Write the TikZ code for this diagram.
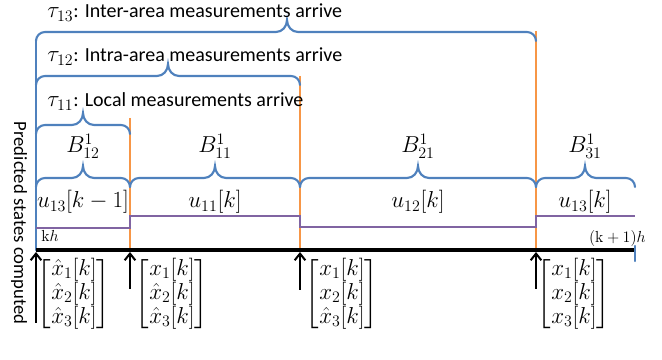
\documentclass[tikz,border=0pt]{standalone}
\usepackage{amsmath}
\usepackage[no-math]{fontspec}
\setmainfont{Carlito}
\usetikzlibrary{arrows.meta}
\definecolor{bblue}{RGB}{79,129,189}
\definecolor{borange}{RGB}{247,150,70}
\definecolor{bpurple}{RGB}{128,100,162}
\tikzset{
  bl/.style={draw=bblue,line width=1.6pt,line cap=round},
  orl/.style={draw=borange,line width=2pt},
  pul/.style={draw=bpurple,line width=2.2pt},
  axisl/.style={draw=black,line width=3pt},
  upar/.style={draw=black,line width=1.5pt,-{Straight Barb[length=5pt,width=8pt]}},
  txt/.style={font=\fontsize{15}{17}\selectfont,inner sep=0pt},
  rtxt/.style={font=\fontsize{14}{16}\selectfont,inner sep=0pt},
  mtxt/.style={font=\fontsize{17}{19}\selectfont,inner sep=0pt},
  small/.style={font=\fontsize{12}{13}\selectfont,inner sep=0pt},
  vec/.style={font=\fontsize{17}{16.8}\selectfont,inner sep=0pt}
}
\newcommand\bigtau[1]{{\fontsize{17}{19}\selectfont$\tau_{#1}$}}
\newcommand\pbr[4]{%
  \draw[bl] (#1,-#4-9) to[out=90,in=180] (#1+9,-#4) -- (#2-11,-#4)
    to[out=0,in=-90] (#2,-#4+12) to[out=-90,in=180] (#2+11,-#4)
    -- (#3-9,-#4) to[out=0,in=90] (#3,-#4-9);}
\begin{document}
\begin{tikzpicture}[x=0.75pt,y=0.75pt]
\useasboundingbox (0,0) rectangle (662,-360);
% orange vertical lines
\draw[orl] (130,-118) -- (130,-250);
\draw[orl] (300,-76) -- (300,-250);
\draw[orl] (536,-31) -- (536,-250);
% left blue vertical
\draw[bl] (36,-40) -- (36,-250);
% top braces
\pbr{36}{287}{536}{32}
\pbr{36}{168}{300}{76}
\pbr{36}{83}{130}{125}
% B braces
\pbr{36}{83}{130}{178}
\pbr{130}{215}{300}{178}
\pbr{300}{418}{536}{178}
\pbr{536}{585}{635}{178}
% titles
\node[txt,anchor=base west] (t13) at (47,-18) {\bigtau{13}: Inter-area measurements arrive};
\node[txt,anchor=base west] (t12) at (47,-62) {\bigtau{12}: Intra-area measurements arrive};
\node[txt,anchor=base west] (t11) at (47,-107) {\bigtau{11}: Local measurements arrive};
% B labels
\node[mtxt] (b12) at (83,-146) {$B^1_{12}$};
\node[mtxt] (b11) at (215,-146) {$B^1_{11}$};
\node[mtxt] (b21) at (418,-146) {$B^1_{21}$};
\node[mtxt] (b31) at (585,-146) {$B^1_{31}$};
% u labels
\node[mtxt] (u1) at (83,-202) {$u_{13}[k-1]$};
\node[mtxt] (u2) at (215,-202) {$u_{11}[k]$};
\node[mtxt] (u3) at (418,-202) {$u_{12}[k]$};
\node[mtxt] (u4) at (585,-202) {$u_{13}[k]$};
% purple signal
\draw[pul] (36,-228) -- (130,-228) -- (130,-216) -- (300,-216) -- (300,-227) -- (536,-227) -- (536,-216) -- (635,-216);
% timeline
\draw[axisl] (36,-250) -- (635,-250);
\draw[bl] (635,-246) -- (635,-261);
\node[small,anchor=base west] (kh) at (41,-242) {$\mathrm{k}h$};
\node[small,anchor=base east] (k1h) at (646,-243) {$(\mathrm{k}+1)h$};
% arrows
\coordinate (s0) at (36,-323); \coordinate (e0) at (36,-252);
\coordinate (s1) at (130,-289); \coordinate (e1) at (130,-252);
\coordinate (s2) at (300,-290); \coordinate (e2) at (300,-252);
\coordinate (s3) at (536,-289); \coordinate (e3) at (536,-252);
\draw[upar] (s0) -- (e0);
\draw[upar] (s1) -- (e1);
\draw[upar] (s2) -- (e2);
\draw[upar] (s3) -- (e3);
% vectors
\node[vec] (v0) at (74,-294) {$\begin{bmatrix}\hat{x}_1[k]\\ \hat{x}_2[k]\\ \hat{x}_3[k]\end{bmatrix}$};
\node[vec] (v1) at (172,-294) {$\begin{bmatrix}x_1[k]\\ \hat{x}_2[k]\\ \hat{x}_3[k]\end{bmatrix}$};
\node[vec] (v2) at (342,-294) {$\begin{bmatrix}x_1[k]\\ x_2[k]\\ \hat{x}_3[k]\end{bmatrix}$};
\node[vec] (v3) at (574,-294) {$\begin{bmatrix}x_1[k]\\ x_2[k]\\ x_3[k]\end{bmatrix}$};
% rotated label
\node[rtxt,rotate=-90] (pred) at (19,-223) {Predicted states computed};
\end{tikzpicture}
\end{document}
